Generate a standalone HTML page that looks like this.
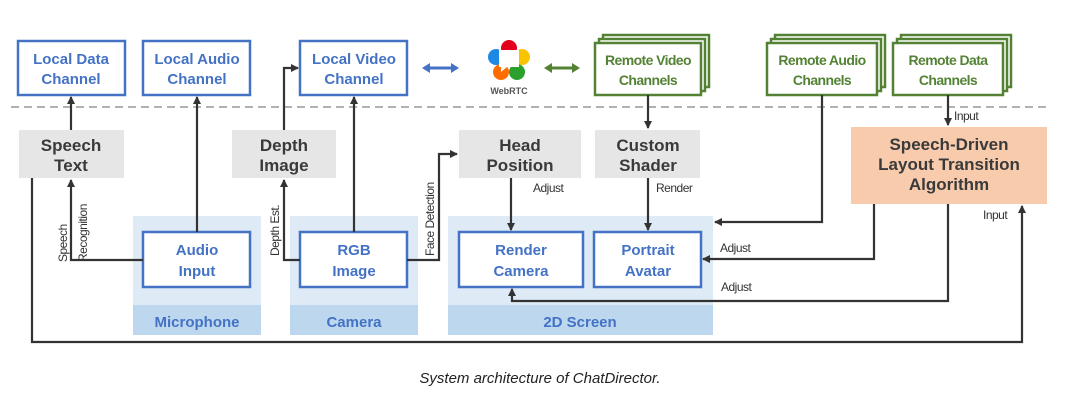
<!DOCTYPE html>
<html><head><meta charset="utf-8"><style>
html,body{margin:0;padding:0;background:#fff;width:1080px;height:400px;overflow:hidden}
svg{display:block}
.bl{font-family:"Liberation Sans",sans-serif;font-weight:bold;font-size:15px;fill:#4472c4;text-anchor:middle}
.gr{font-family:"Liberation Sans",sans-serif;font-weight:bold;font-size:14px;fill:#548235;text-anchor:middle;letter-spacing:-0.6px}
.gy{font-family:"Liberation Sans",sans-serif;font-weight:bold;font-size:17px;fill:#3a3a3a;text-anchor:middle}
.sm{font-family:"Liberation Sans",sans-serif;font-size:12px;fill:#333;letter-spacing:-0.5px}
.bb{fill:#fff;stroke:#4472c4;stroke-width:2.5}
.gb{fill:#fff;stroke:#548235;stroke-width:2.5}
.ln{fill:none;stroke:#333;stroke-width:2.2}
</style></head><body>
<svg width="1080" height="400" viewBox="0 0 1080 400">
<defs>
<marker id="a" markerWidth="8" markerHeight="8" refX="7" refY="4" orient="auto" markerUnits="userSpaceOnUse"><path d="M0,0 L8,4 L0,8 z" fill="#333"/></marker>
</defs>
<rect x="133" y="216" width="128" height="119" fill="#deebf7"/><rect x="133" y="305" width="128" height="30" fill="#bdd7ee"/>
<rect x="290" y="216" width="128" height="119" fill="#deebf7"/><rect x="290" y="305" width="128" height="30" fill="#bdd7ee"/>
<rect x="448" y="216" width="265" height="119" fill="#deebf7"/><rect x="448" y="305" width="265" height="30" fill="#bdd7ee"/>
<text class="bl" x="197" y="327" font-size="17">Microphone</text>
<text class="bl" x="354" y="327" font-size="17">Camera</text>
<text class="bl" x="580" y="327" font-size="17">2D Screen</text>
<line x1="11" y1="107" x2="1050" y2="107" stroke="#999" stroke-width="1.5" stroke-dasharray="8,5"/>
<rect class="bb" x="18" y="41" width="107" height="54"/><text class="bl" x="71" y="64">Local Data</text><text class="bl" x="71" y="84">Channel</text>
<rect class="bb" x="143" y="41" width="107" height="54"/><text class="bl" x="197" y="64">Local Audio</text><text class="bl" x="197" y="84">Channel</text>
<rect class="bb" x="300" y="41" width="107" height="54"/><text class="bl" x="354" y="64">Local Video</text><text class="bl" x="354" y="84">Channel</text>
<path d="M424,68 L457,68" stroke="#4472c4" stroke-width="3"/><path d="M422,68 L430,63 L430,73z M459,68 L451,63 L451,73z" fill="#4472c4"/>
<path d="M546,68 L577,68" stroke="#548235" stroke-width="3"/><path d="M544,68 L552,63 L552,73z M580,68 L572,63 L572,73z" fill="#548235"/>
<circle cx="509" cy="48" r="8" fill="#e3001b"/>
<circle cx="522" cy="57" r="8" fill="#f9c300"/>
<circle cx="517" cy="72" r="8" fill="#2ca02c"/>
<circle cx="501" cy="72" r="8" fill="#ff6d00"/>
<circle cx="496" cy="57" r="8" fill="#1e88e5"/>
<path d="M499,50 h20 v17 h-12 l-6,5 v-5 h-2 z" fill="#fff"/>
<text x="509" y="94" font-family="Liberation Sans,sans-serif" font-size="9" font-weight="bold" fill="#555" text-anchor="middle">WebRTC</text>
<rect class="gb" x="603" y="35" width="106" height="52"/><rect class="gb" x="599" y="39" width="106" height="52"/><rect class="gb" x="595" y="43" width="106" height="52"/>
<text class="gr" x="648" y="65">Remote Video</text><text class="gr" x="648" y="85">Channels</text>
<rect class="gb" x="775" y="35" width="110" height="52"/><rect class="gb" x="771" y="39" width="110" height="52"/><rect class="gb" x="767" y="43" width="110" height="52"/>
<text class="gr" x="822" y="65">Remote Audio</text><text class="gr" x="822" y="85">Channels</text>
<rect class="gb" x="901" y="35" width="110" height="52"/><rect class="gb" x="897" y="39" width="110" height="52"/><rect class="gb" x="893" y="43" width="110" height="52"/>
<text class="gr" x="948" y="65">Remote Data</text><text class="gr" x="948" y="85">Channels</text>
<rect x="19" y="130" width="105" height="48" fill="#e6e6e6"/><text class="gy" x="71" y="151">Speech</text><text class="gy" x="71" y="171">Text</text>
<rect x="232" y="130" width="104" height="48" fill="#e6e6e6"/><text class="gy" x="284" y="151">Depth</text><text class="gy" x="284" y="171">Image</text>
<rect x="459" y="130" width="122" height="48" fill="#e6e6e6"/><text class="gy" x="520" y="151">Head</text><text class="gy" x="520" y="171">Position</text>
<rect x="595" y="130" width="105" height="48" fill="#e6e6e6"/><text class="gy" x="648" y="151">Custom</text><text class="gy" x="648" y="171">Shader</text>
<rect x="851" y="127" width="196" height="77" fill="#f8cbad"/>
<text class="gy" x="949" y="150">Speech-Driven</text><text class="gy" x="949" y="170">Layout Transition</text><text class="gy" x="949" y="190">Algorithm</text>
<rect class="bb" x="143" y="232" width="107" height="55"/><text class="bl" x="197" y="255" font-size="17">Audio</text><text class="bl" x="197" y="276" font-size="17">Input</text>
<rect class="bb" x="300" y="232" width="107" height="55"/><text class="bl" x="354" y="255" font-size="17">RGB</text><text class="bl" x="354" y="276" font-size="17">Image</text>
<rect class="bb" x="459" y="232" width="124" height="55"/><text class="bl" x="521" y="255" font-size="17">Render</text><text class="bl" x="521" y="276" font-size="17">Camera</text>
<rect class="bb" x="594" y="232" width="107" height="55"/><text class="bl" x="648" y="255" font-size="17">Portrait</text><text class="bl" x="648" y="276" font-size="17">Avatar</text>
<path class="ln" d="M71,130 V97" marker-end="url(#a)"/>
<path class="ln" d="M197,232 V97" marker-end="url(#a)"/>
<path class="ln" d="M284,130 V68 H298" marker-end="url(#a)"/>
<path class="ln" d="M354,232 V97" marker-end="url(#a)"/>
<path class="ln" d="M300,260 H284 V180" marker-end="url(#a)"/>
<path class="ln" d="M143,260 H71 V180" marker-end="url(#a)"/>
<path class="ln" d="M407,260 H439 V154 H457" marker-end="url(#a)"/>
<path class="ln" d="M511,178 V230" marker-end="url(#a)"/>
<path class="ln" d="M648,178 V230" marker-end="url(#a)"/>
<path class="ln" d="M648,95 V128" marker-end="url(#a)"/>
<path class="ln" d="M822,95 V222 H715" marker-end="url(#a)"/>
<path class="ln" d="M948,95 V125" marker-end="url(#a)"/>
<path class="ln" d="M874,204 V259 H703" marker-end="url(#a)"/>
<path class="ln" d="M948,204 V301 H512 V289" marker-end="url(#a)"/>
<path class="ln" d="M32,178 V342 H1022 V206" marker-end="url(#a)"/>
<text class="sm" x="533" y="192">Adjust</text>
<text class="sm" x="656" y="192">Render</text>
<text class="sm" x="954" y="120">Input</text>
<text class="sm" x="720" y="252">Adjust</text>
<text class="sm" x="721" y="291">Adjust</text>
<text class="sm" x="983" y="219">Input</text>
<text class="sm" transform="translate(67,262) rotate(-90)">Speech</text>
<text class="sm" transform="translate(87,262) rotate(-90)">Recognition</text>
<text class="sm" transform="translate(279,256) rotate(-90)">Depth Est.</text>
<text class="sm" transform="translate(434,256) rotate(-90)">Face Detection</text>
<text x="540" y="383" font-family="Liberation Sans,sans-serif" font-style="italic" font-size="15" fill="#222" text-anchor="middle">System architecture of ChatDirector.</text>
</svg>
</body></html>
